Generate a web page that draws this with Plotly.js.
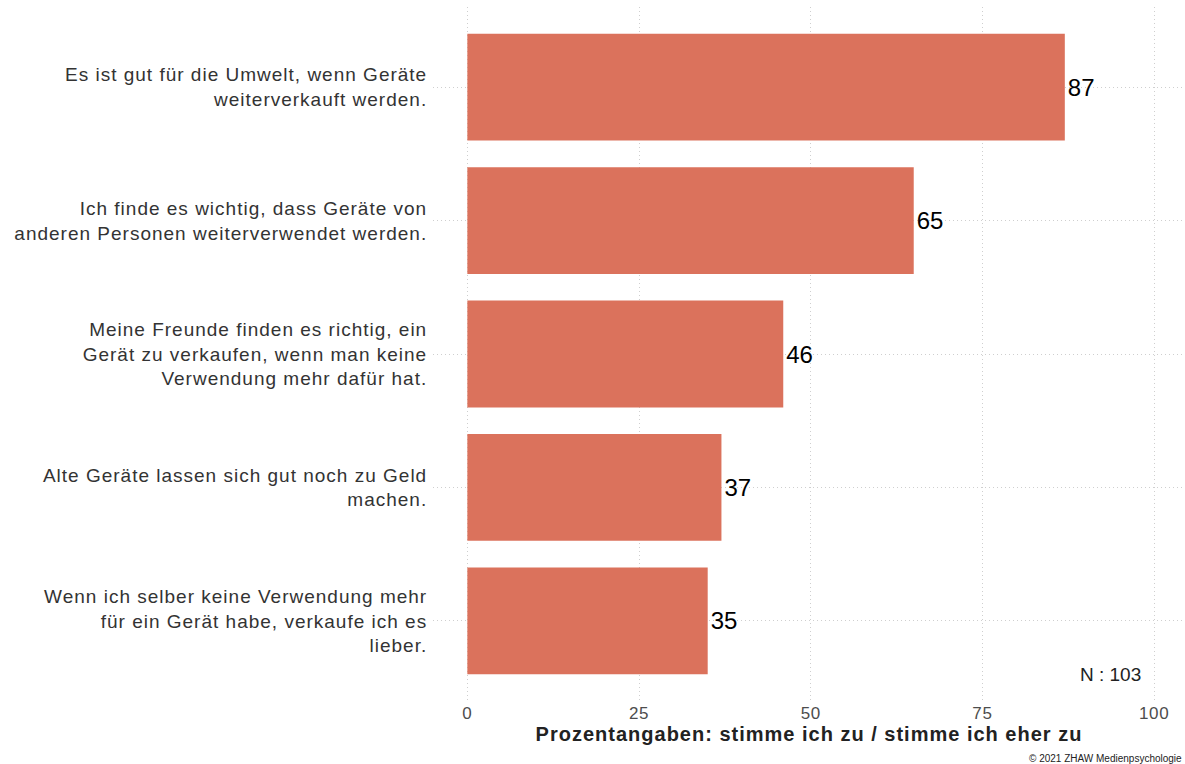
<!DOCTYPE html>
<html>
<head>
<meta charset="utf-8">
<script src="https://cdn.plot.ly/plotly-3.0.1.min.js"></script>
<style>
  html, body { margin: 0; padding: 0; background: #fff; }
  #chart { width: 1185px; height: 764px; }
  /* slightly looser tracking for the category labels and the axis title */
  #chart .ytick text, #chart .ytick tspan { letter-spacing: 1px; }
  #chart .g-xtitle text { letter-spacing: 1px; }
  #chart .xtick text { letter-spacing: 0.6px; }
</style>
</head>
<body>
<div id="chart"></div>
<script>
// Statements (top to bottom) and share of agreement in percent
const statements = [
  "Es ist gut für die Umwelt, wenn Geräte<br>weiterverkauft werden.",
  "Ich finde es wichtig, dass Geräte von<br>anderen Personen weiterverwendet werden.",
  "Meine Freunde finden es richtig, ein<br>Gerät zu verkaufen, wenn man keine<br>Verwendung mehr dafür hat.",
  "Alte Geräte lassen sich gut noch zu Geld<br>machen.",
  "Wenn ich selber keine Verwendung mehr<br>für ein Gerät habe, verkaufe ich es<br>lieber."
];
const agreement = [87, 65, 46, 37, 35];
const xTicks = [0, 25, 50, 75, 100];
const sampleSize = 103;

const FONT = "Liberation Sans, Arial, sans-serif";

const trace = {
  type: "bar",
  orientation: "h",
  x: agreement,
  y: statements,
  width: 0.8,
  marker: { color: "#DB725C", line: { width: 0 } },
  text: agreement.map(String),
  textposition: "outside",
  cliponaxis: false,
  textfont: { family: FONT, size: 24, color: "#000" },
  hoverinfo: "skip"
};

const layout = {
  width: 1185,
  height: 764,
  paper_bgcolor: "#fff",
  plot_bgcolor: "#fff",
  margin: { l: 433, r: 0, t: 7, b: 63 },
  showlegend: false,
  font: { family: FONT },
  xaxis: {
    range: [-5, 104.5],
    tickvals: xTicks,
    ticktext: xTicks.map(String),
    showgrid: true,
    gridcolor: "#cfcfcf",
    griddash: "1px,3px",
    gridwidth: 1,
    zeroline: false,
    showline: false,
    ticks: "",
    tickfont: { family: FONT, size: 17, color: "#4d4d4d" },
    title: {
      text: "<b>Prozentangaben: stimme ich zu / stimme ich eher zu</b>",
      font: { family: FONT, size: 20, color: "#222" },
      standoff: 3
    }
  },
  yaxis: {
    type: "category",
    categoryorder: "array",
    categoryarray: statements,
    range: [4.6, -0.6],
    showgrid: true,
    gridcolor: "#cfcfcf",
    griddash: "1px,3px",
    gridwidth: 1,
    zeroline: false,
    showline: false,
    ticks: "outside",
    ticklen: 1,
    tickcolor: "rgba(0,0,0,0)",
    tickfont: { family: FONT, size: 19, color: "#333" }
  },
  annotations: [
    {
      xref: "paper", yref: "paper",
      x: 0.944, y: 0.02,
      xanchor: "right", yanchor: "bottom",
      text: "N : " + sampleSize,
      showarrow: false,
      font: { family: FONT, size: 19, color: "#222" }
    },
    {
      xref: "paper", yref: "paper",
      x: 0.9987, y: -0.0824,
      xanchor: "right", yanchor: "middle",
      text: "© 2021 ZHAW Medienpsychologie",
      showarrow: false,
      font: { family: FONT, size: 10, color: "#222" }
    }
  ]
};

Plotly.newPlot("chart", [trace], layout, { displayModeBar: false, staticPlot: true });
</script>
</body>
</html>
